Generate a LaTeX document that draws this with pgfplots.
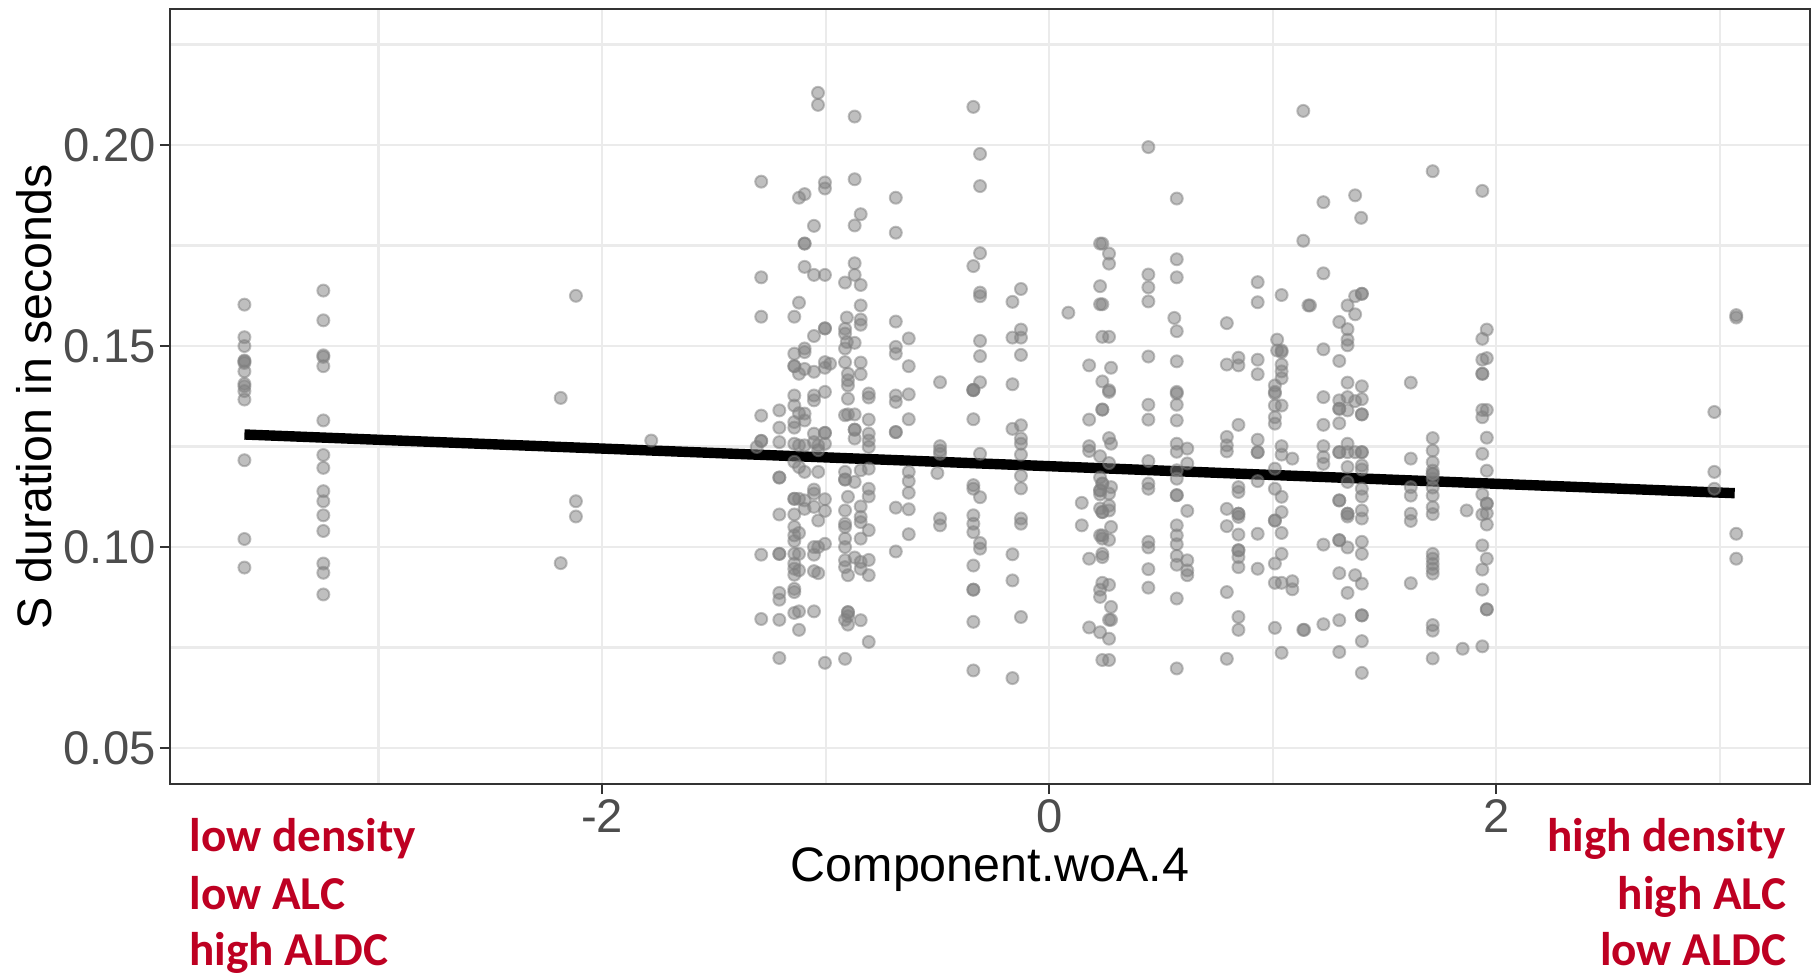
\documentclass[border=0pt]{standalone}
\usepackage{pgfplots}
\pgfplotsset{compat=1.18}
\usepackage{fontspec}
\setmainfont{Liberation Sans}
\newfontfamily\calfont{Carlito}
\definecolor{annred}{RGB}{190,0,34}
\definecolor{gridgray}{HTML}{EBEBEB}
\definecolor{axisgray}{HTML}{333333}
\definecolor{tickgray}{HTML}{4D4D4D}
\begin{document}
\begin{tikzpicture}
\begin{axis}[
 scale only axis, width=410pt, height=193.75pt,
 xmin=-3.933, xmax=3.404, ymin=0.0410, ymax=0.2338,
 axis line style={draw=axisgray, line width=0.45pt},
 xtick={-2,0,2}, xticklabels={-2,0,2},
 ytick={0.05,0.10,0.15,0.20}, yticklabels={0.05,0.10,0.15,0.20},
 scaled y ticks=false, scaled x ticks=false,
 minor xtick={-3,-1,1,3}, minor ytick={0.075,0.125,0.175,0.225},
 grid=both,
 major grid style={draw=gridgray, line width=0.55pt},
 minor grid style={draw=gridgray, line width=0.55pt},
 tick align=outside, xtick pos=left, ytick pos=left,
 major tick length=2.5pt, minor tick length=0pt,
 tick style={draw=axisgray, line width=0.45pt},
 /pgf/number format/assume math mode=true,
 xticklabel style={font=\fontsize{11.8}{12}\selectfont, text=tickgray, inner sep=0pt, anchor=north, yshift=-1.25pt},
 yticklabel style={font=\fontsize{11.8}{12}\selectfont, text=tickgray, inner sep=0pt, anchor=east, xshift=-0.9pt},
]
\addplot[only marks, mark=*, mark size=1.5pt,
  mark options={fill=gray, draw=gray, fill opacity=0.5, draw opacity=0.5, line width=0.5pt}]
 table {
x y
-3.60 0.1603
-3.60 0.1522
-3.60 0.1500
-3.60 0.1464
-3.60 0.1462
-3.60 0.1458
-3.60 0.1437
-3.60 0.1406
-3.60 0.1400
-3.60 0.1388
-3.60 0.1367
-3.60 0.1216
-3.60 0.1020
-3.60 0.0949
-3.247 0.1638
-3.247 0.1564
-3.247 0.1477
-3.247 0.1473
-3.247 0.1450
-3.247 0.1315
-3.247 0.1229
-3.247 0.1197
-3.247 0.1139
-3.247 0.1114
-3.247 0.1079
-3.247 0.1040
-3.247 0.0959
-3.247 0.0936
-3.247 0.0882
-2.185 0.1371
-2.185 0.0960
-2.117 0.1625
-2.117 0.1114
-2.117 0.1076
-1.78 0.1265
2.976 0.1336
2.976 0.1187
2.976 0.1145
3.074 0.1577
3.074 0.1571
3.074 0.1033
3.074 0.0971
-1.034 0.2130
-1.034 0.2100
-0.870 0.2071
-1.288 0.1909
-1.003 0.1907
-1.003 0.1892
-0.870 0.1915
-1.119 0.1869
-1.094 0.1878
-0.686 0.1869
-0.843 0.1828
-1.052 0.1799
-0.870 0.1800
-0.686 0.1782
-1.094 0.1755
-1.094 0.1755
-1.094 0.1697
-1.052 0.1677
-1.003 0.1677
-0.870 0.1706
-0.870 0.1677
-0.913 0.1658
-0.843 0.1652
-1.288 0.1671
-1.119 0.1608
-0.843 0.1601
-1.288 0.1573
-1.140 0.1573
-0.905 0.1571
-0.843 0.1566
-0.843 0.1553
-0.686 0.1561
-1.003 0.1544
-1.003 0.1544
-1.052 0.1525
-0.913 0.1543
-0.913 0.1531
-0.905 0.1510
-0.870 0.1508
-0.913 0.1494
-0.628 0.1519
-0.686 0.1498
-0.686 0.1481
-1.140 0.1481
-1.094 0.1494
-1.094 0.1485
-1.140 0.1450
-1.140 0.1450
-1.119 0.1431
-1.094 0.1443
-1.052 0.1436
-1.003 0.1460
-1.003 0.1446
-0.980 0.1456
-0.913 0.1460
-0.843 0.1459
-0.843 0.1430
-0.900 0.1431
-0.900 0.1415
-0.900 0.1402
-0.628 0.1450
-1.140 0.1377
-1.052 0.1377
-1.052 0.1365
-1.003 0.1386
-0.900 0.1369
-0.807 0.1382
-0.807 0.1372
-0.686 0.1377
-0.686 0.1361
-0.628 0.1380
-1.288 0.1327
-1.207 0.1340
-1.140 0.1352
-1.119 0.1333
-1.094 0.1332
-1.094 0.1315
-1.140 0.1311
-1.140 0.1297
-1.207 0.1297
-1.052 0.1282
-1.003 0.1284
-1.003 0.1284
-1.003 0.1257
-0.913 0.1328
-0.900 0.1330
-0.870 0.1330
-0.807 0.1317
-0.870 0.1292
-0.870 0.1292
-0.870 0.1270
-0.807 0.1282
-0.807 0.1265
-0.807 0.1249
-0.686 0.1286
-0.686 0.1286
-0.628 0.1318
-1.288 0.1264
-1.288 0.1264
-1.308 0.1249
-1.207 0.1261
-1.140 0.1257
-1.119 0.1253
-1.094 0.1253
-1.052 0.1261
-1.033 0.1253
-1.033 0.1241
-1.140 0.1212
-1.119 0.1199
-1.094 0.1187
-1.033 0.1187
-1.207 0.1173
-1.207 0.1173
-0.913 0.1187
-0.913 0.1168
-0.913 0.1168
-0.870 0.1162
-0.843 0.1191
-0.807 0.1195
-0.628 0.1187
-0.628 0.1164
-0.628 0.1135
-1.052 0.1143
-1.052 0.1133
-1.140 0.1120
-1.140 0.1120
-1.119 0.1120
-1.094 0.1116
-1.003 0.1119
-0.900 0.1125
-0.807 0.1145
-0.807 0.1126
-1.207 0.1081
-1.140 0.1081
-1.094 0.1095
-1.052 0.1100
-1.003 0.1090
-1.033 0.1066
-0.913 0.1091
-0.843 0.1101
-0.843 0.1075
-0.843 0.1062
-0.913 0.1058
-0.913 0.1050
-0.807 0.1042
-0.686 0.1098
-0.628 0.1094
-0.628 0.1032
-1.140 0.1050
-1.140 0.1029
-1.119 0.1035
-1.140 0.1015
-1.052 0.1000
-1.033 0.1000
-1.003 0.1008
-0.913 0.1021
-0.913 0.1000
-0.843 0.1021
-1.288 0.0981
-1.207 0.0983
-1.207 0.0983
-1.140 0.0983
-1.119 0.0983
-1.052 0.0981
-0.913 0.0967
-0.913 0.0950
-0.870 0.0974
-0.843 0.0963
-0.843 0.0946
-0.807 0.0968
-0.807 0.0930
-0.900 0.0930
-1.140 0.0959
-1.140 0.0946
-1.119 0.0942
-1.140 0.0931
-1.052 0.0940
-1.033 0.0935
-0.686 0.0989
-1.207 0.0886
-1.207 0.0869
-1.140 0.0896
-1.140 0.0888
-1.288 0.0821
-1.207 0.0819
-1.140 0.0836
-1.119 0.0840
-1.052 0.0840
-1.119 0.0794
-0.913 0.0819
-0.900 0.0838
-0.900 0.0838
-0.900 0.0828
-0.900 0.0807
-0.843 0.0818
-0.807 0.0764
-1.207 0.0724
-1.003 0.0712
-0.913 0.0722
-0.339 0.2095
-0.309 0.1978
-0.309 0.1898
-0.309 0.1731
-0.339 0.1699
-0.309 0.1633
-0.309 0.1624
-0.126 0.1642
-0.164 0.1610
-0.126 0.1541
-0.164 0.1521
-0.126 0.1521
-0.309 0.1513
-0.309 0.1475
-0.126 0.1478
-0.488 0.1410
-0.309 0.1410
-0.339 0.1391
-0.339 0.1391
-0.164 0.1405
0.228 0.1755
0.238 0.1755
0.268 0.1730
0.268 0.1705
0.228 0.1649
0.228 0.1604
0.238 0.1604
0.086 0.1583
0.238 0.1523
0.268 0.1523
0.179 0.1452
0.277 0.1446
0.238 0.1412
0.268 0.1390
-0.339 0.1390
-0.339 0.1318
-0.164 0.1294
-0.126 0.1303
-0.126 0.1270
-0.126 0.1257
-0.126 0.1230
-0.309 0.1232
-0.488 0.1251
-0.488 0.1232
-0.488 0.1240
-0.500 0.1184
-0.126 0.1177
-0.126 0.1146
-0.339 0.1154
-0.339 0.1145
-0.309 0.1124
-0.488 0.1071
-0.488 0.1054
-0.339 0.1079
-0.339 0.1058
-0.339 0.1037
-0.309 0.1010
-0.309 0.0996
-0.126 0.1071
-0.126 0.1058
-0.164 0.0982
-0.339 0.0954
-0.339 0.0894
-0.339 0.0894
-0.164 0.0917
-0.126 0.0826
-0.339 0.0814
-0.339 0.0693
-0.164 0.0674
0.238 0.1342
0.238 0.1342
0.179 0.1317
0.268 0.1386
0.268 0.1271
0.277 0.1257
0.179 0.1251
0.179 0.1239
0.228 0.1226
0.268 0.1209
0.228 0.1173
0.238 0.1158
0.238 0.1158
0.277 0.1149
0.228 0.1141
0.228 0.1141
0.268 0.1133
0.228 0.1131
0.268 0.1103
0.146 0.1110
0.228 0.1096
0.238 0.1087
0.238 0.1087
0.268 0.1091
0.146 0.1054
0.277 0.1050
0.228 0.1029
0.238 0.1029
0.238 0.1021
0.268 0.1018
0.238 0.0983
0.238 0.0975
0.179 0.0971
0.238 0.0911
0.228 0.0894
0.268 0.0906
0.228 0.0876
0.277 0.0851
0.277 0.0819
0.268 0.0819
0.179 0.0800
0.228 0.0788
0.268 0.0772
0.238 0.0719
0.268 0.0719
0.444 0.1995
0.571 0.1867
0.571 0.1716
0.571 0.1671
0.444 0.1678
0.444 0.1646
0.444 0.1611
0.560 0.1570
0.571 0.1537
0.795 0.1557
0.933 0.1659
0.933 0.1609
1.040 0.1627
1.020 0.1516
1.020 0.1489
1.040 0.1489
1.040 0.1485
1.040 0.1454
1.040 0.1437
1.040 0.1420
1.010 0.1402
1.010 0.1386
0.444 0.1474
0.571 0.1462
0.571 0.1386
0.795 0.1454
0.847 0.1471
0.847 0.1452
0.933 0.1466
0.933 0.1430
1.137 0.2085
1.137 0.1762
1.160 0.1601
0.444 0.1354
0.444 0.1317
0.571 0.1382
0.571 0.1354
0.571 0.1315
0.847 0.1304
0.795 0.1274
0.795 0.1253
0.795 0.1238
0.933 0.1267
0.933 0.1236
0.933 0.1236
1.010 0.1382
1.010 0.1352
1.040 0.1352
1.010 0.1323
1.010 0.1307
1.040 0.1251
1.040 0.1230
1.088 0.1220
0.571 0.1257
0.571 0.1237
0.618 0.1245
0.444 0.1214
0.618 0.1208
0.571 0.1191
0.571 0.1170
0.444 0.1158
0.444 0.1145
0.571 0.1129
0.571 0.1129
0.618 0.1090
0.847 0.1149
0.847 0.1137
0.933 0.1164
1.010 0.1195
1.010 0.1145
1.040 0.1125
0.795 0.1095
0.847 0.1083
0.847 0.1083
0.847 0.1075
1.040 0.1087
1.010 0.1066
1.010 0.1066
0.795 0.1052
0.847 0.1031
0.933 0.1033
1.040 0.1035
0.571 0.1054
0.571 0.1029
0.571 0.1007
0.444 0.1013
0.444 0.0999
0.571 0.0978
0.571 0.0956
0.618 0.0967
0.618 0.0942
0.618 0.0930
0.847 0.0992
0.847 0.0992
0.847 0.0975
0.847 0.0950
0.933 0.0946
1.040 0.0983
1.010 0.0959
0.444 0.0945
0.444 0.0899
0.571 0.0872
0.795 0.0888
1.010 0.0911
1.040 0.0911
1.088 0.0915
1.088 0.0895
0.847 0.0826
0.847 0.0794
1.010 0.0799
1.137 0.0794
1.040 0.0737
0.795 0.0722
0.571 0.0698
1.716 0.1935
1.938 0.1886
1.227 0.1858
1.369 0.1875
1.396 0.1819
1.227 0.1681
1.167 0.1601
1.369 0.1624
1.399 0.1630
1.399 0.1630
1.335 0.1601
1.369 0.1579
1.298 0.1560
1.335 0.1542
1.335 0.1516
1.335 0.1502
1.227 0.1492
1.298 0.1463
1.335 0.1409
1.399 0.1400
1.618 0.1409
1.958 0.1541
1.938 0.1518
1.938 0.1466
1.958 0.1470
1.938 0.1431
1.938 0.1431
1.227 0.1373
1.298 0.1365
1.335 0.1373
1.369 0.1363
1.399 0.1368
1.298 0.1344
1.298 0.1344
1.335 0.1340
1.399 0.1330
1.399 0.1330
1.227 0.1304
1.298 0.1308
1.227 0.1251
1.335 0.1257
1.298 0.1236
1.298 0.1236
1.335 0.1236
1.369 0.1236
1.399 0.1236
1.399 0.1236
1.227 0.1224
1.227 0.1207
1.335 0.1199
1.399 0.1203
1.399 0.1193
1.335 0.1162
1.399 0.1145
1.399 0.1126
1.298 0.1116
1.298 0.1116
1.335 0.1083
1.335 0.1083
1.335 0.1076
1.399 0.1091
1.399 0.1071
1.227 0.1006
1.298 0.1017
1.298 0.1017
1.335 0.0999
1.399 0.1013
1.399 0.0983
1.298 0.0935
1.369 0.0930
1.399 0.0909
1.335 0.0886
1.141 0.0794
1.227 0.0808
1.298 0.0818
1.399 0.0830
1.399 0.0830
1.399 0.0766
1.298 0.0739
1.399 0.0687
1.618 0.1220
1.618 0.1149
1.618 0.1128
1.618 0.1083
1.618 0.1065
1.618 0.0910
1.716 0.1271
1.716 0.1240
1.716 0.1211
1.716 0.1190
1.716 0.1182
1.716 0.1182
1.716 0.1170
1.716 0.1148
1.716 0.1128
1.716 0.1099
1.716 0.1082
1.716 0.0983
1.716 0.0971
1.716 0.0958
1.716 0.0946
1.716 0.0934
1.716 0.0806
1.716 0.0792
1.716 0.0723
1.938 0.1341
1.958 0.1341
1.938 0.1323
1.958 0.1272
1.938 0.1232
1.958 0.1190
1.938 0.1131
1.958 0.1108
1.958 0.1108
1.938 0.1081
1.958 0.1084
1.958 0.1056
1.868 0.1091
1.938 0.1004
1.958 0.0971
1.938 0.0944
1.938 0.0894
1.958 0.0845
1.958 0.0845
1.850 0.0747
1.938 0.0753
};
\addplot[black, line width=2.6pt, line cap=butt] coordinates {(-3.60,0.1280) (3.067,0.1134)};
\coordinate (SW) at (rel axis cs:0,0);
\coordinate (SE) at (rel axis cs:1,0);
\coordinate (NE) at (rel axis cs:1,1);
\coordinate (ML) at (rel axis cs:0,0.5);
\coordinate (MB) at (rel axis cs:0.5,0);
\end{axis}
\node[rotate=90, anchor=base, inner sep=0pt, font=\fontsize{12.1}{13}\selectfont] at ([xshift=-29.5pt]ML) {S duration in seconds};
\node[anchor=base, inner sep=0pt, font=\fontsize{12.1}{13}\selectfont] at ([yshift=-24.4pt]MB) {Component.woA.4};
\begin{scope}[every node/.style={inner sep=0pt, text=annred, font=\calfont\bfseries\fontsize{11.8}{12}\selectfont}]
\node[anchor=base west] at ([xshift=4.7pt, yshift=-16.75pt]SW) {low density};
\node[anchor=base west] at ([xshift=4.7pt, yshift=-31.3pt]SW) {low ALC};
\node[anchor=base west] at ([xshift=4.7pt, yshift=-45.4pt]SW) {high ALDC};
\node[anchor=base east] at ([xshift=-5.8pt, yshift=-16.75pt]SE) {high density};
\node[anchor=base east] at ([xshift=-5.8pt, yshift=-31.3pt]SE) {high ALC};
\node[anchor=base east] at ([xshift=-5.8pt, yshift=-45.4pt]SE) {low ALDC};
\end{scope}
\pgfresetboundingbox
\path[use as bounding box] ([shift={(-42.5pt,-47.5pt)}]SW) rectangle ([shift={(1.5pt,2.3pt)}]NE);
\end{tikzpicture}
\end{document}
